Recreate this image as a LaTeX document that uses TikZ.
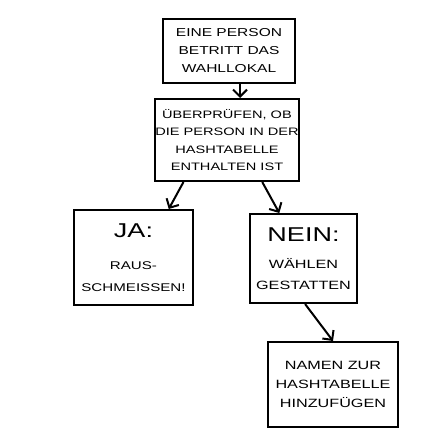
\documentclass[tikz,border=0pt]{standalone}
\usepackage{fontspec}
\setmainfont{Liberation Sans}[FakeStretch=1.35]
\usetikzlibrary{arrows.meta}

\tikzset{
  box/.style={draw, line width=2pt, align=center, inner sep=0pt},
  arrow/.style={line width=2pt, -{Straight Barb[length=7pt,width=14pt,line width=2pt]}},
}

\begin{document}
\begin{tikzpicture}[x=1pt,y=-1pt]
\useasboundingbox (0,0) rectangle (440,431);

\node[box, minimum width=132pt, minimum height=64pt,
      font=\fontsize{11.5}{18}\selectfont] (enter) at (229,51)
  {EINE PERSON\\BETRITT DAS\\WAHLLOKAL};
\node[box, minimum width=142pt, minimum height=82pt,
      font=\fontsize{10.8}{17.5}\selectfont] (check) at (227,140)
  {ÜBERPRÜFEN, OB\\DIE PERSON IN DER\\HASHTABELLE\\ENTHALTEN IST};

\node[box, minimum width=119pt, minimum height=95pt,
      font=\fontsize{11.2}{22}\selectfont] (yes) at (133.5,257.5)
  {{\fontsize{20}{20}\selectfont JA:}\\[10pt]RAUS-\\SCHMEISSEN!};
\node[box, minimum width=107pt, minimum height=89pt,
      font=\fontsize{12}{21}\selectfont] (no) at (303.5,258.5)
  {{\fontsize{20}{20}\selectfont NEIN:}\\[6pt]WÄHLEN\\GESTATTEN};

\node[box, minimum width=130pt, minimum height=85pt,
      font=\fontsize{12}{19}\selectfont] (add) at (333,384.5)
  {NAMEN ZUR\\HASHTABELLE\\HINZUFÜGEN};

\draw[arrow] ([xshift=11pt]enter.south) -- ([xshift=13pt]check.north);
\draw[arrow] (check.224) -- (yes.54);
\draw[arrow] (check.310) -- (no.118);
\draw[arrow] (no.272) -- (add.north);
\end{tikzpicture}
\end{document}
